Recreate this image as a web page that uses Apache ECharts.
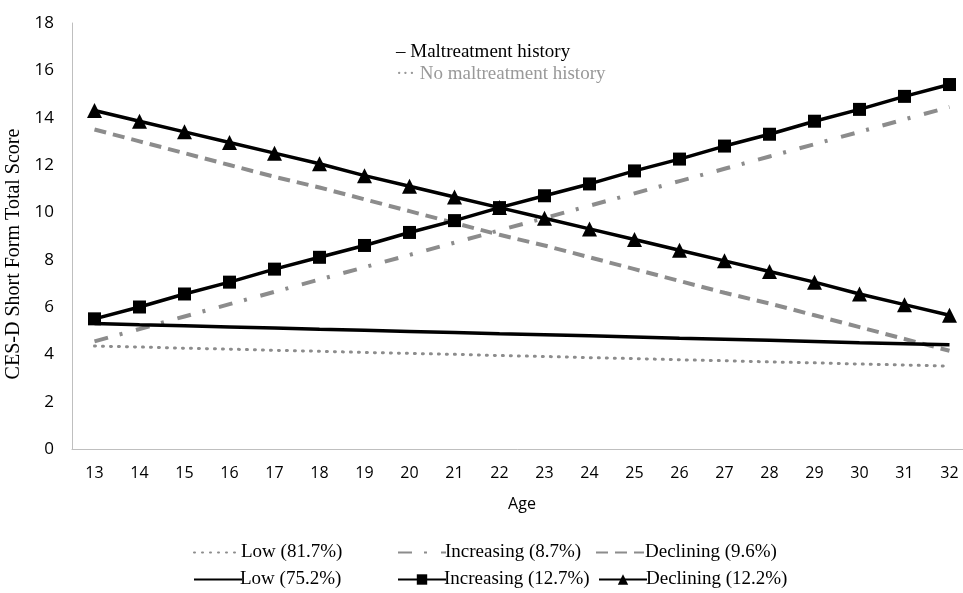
<!DOCTYPE html>
<html>
<head>
<meta charset="utf-8">
<script src="https://cdn.jsdelivr.net/npm/echarts@6/dist/echarts.min.js"></script>
<style>
html, body { margin: 0; padding: 0; background: #fff; }
#chart { width: 963px; height: 593px; }
</style>
</head>
<body>
<div id="chart"></div>
<script>
var ages = ['13','14','15','16','17','18','19','20','21','22','23','24','25','26','27','28','29','30','31','32'];
var yTicks = [0, 2, 4, 6, 8, 10, 12, 14, 16, 18];

// no maltreatment history (grey)
var noLow = [4.35,4.31,4.26,4.22,4.17,4.13,4.08,4.04,4.0,3.95,3.91,3.86,3.82,3.77,3.73,3.68,3.64,3.59,3.55,3.5];
var noIncreasing = [4.55,5.07,5.6,6.12,6.64,7.16,7.68,8.2,8.72,9.24,9.76,10.28,10.8,11.32,11.84,12.36,12.88,13.4,13.93,14.45];
var noDeclining = [13.5,13.0,12.5,12.0,11.5,11.05,10.55,10.05,9.55,9.05,8.6,8.1,7.6,7.1,6.6,6.15,5.65,5.15,4.65,4.15];

// maltreatment history (black)
var mLow = [5.3,5.25,5.21,5.16,5.11,5.06,5.02,4.97,4.92,4.87,4.83,4.78,4.73,4.68,4.64,4.59,4.54,4.49,4.45,4.4];
var mIncreasing = [5.5,6.0,6.55,7.05,7.6,8.1,8.6,9.15,9.65,10.2,10.7,11.2,11.75,12.25,12.8,13.3,13.85,14.35,14.9,15.4];
var mDeclining = [14.3,13.85,13.4,12.95,12.5,12.05,11.55,11.1,10.65,10.2,9.75,9.3,8.85,8.4,7.95,7.5,7.05,6.55,6.1,5.65];

var names = ['Low (81.7%)', 'Increasing (8.7%)', 'Declining (9.6%)',
             'Low (75.2%)', 'Increasing (12.7%)', 'Declining (12.2%)'];

var grey = '#8c8c8c';
var serif = 'Liberation Serif';

var myChart = echarts.init(document.getElementById('chart'));

function legendAt(name, left, top, gap, noMarker) {
  var lg = {
    data: [name],
    left: left,
    top: top,
    itemWidth: 48,
    itemHeight: 13,
    itemGap: 0,
    selectedMode: false,
    textStyle: { fontFamily: serif, fontSize: 19, color: '#000', padding: [0, 0, 0, gap] }
  };
  if (noMarker) lg.itemStyle = { opacity: 0 };
  return lg;
}

var option = {
  animation: false,
  grid: { left: 72, top: 23, width: 900, height: 426, outerBoundsMode: 'none' },
  legend: [
    legendAt(names[0], 188, 538, -6, true),
    legendAt(names[1], 392, 538, -6, true),
    legendAt(names[2], 590, 538, -4, true),
    legendAt(names[3], 188, 565, -7, true),
    legendAt(names[4], 392, 565, -7, false),
    legendAt(names[5], 593, 565, -6, false)
  ],
  graphic: [
    { type: 'text', left: 396, top: 43, style: { text: '\u2013 Maltreatment history', font: '19px "Liberation Serif"', fill: '#000' } },
    { type: 'text', left: 396, top: 65, style: { text: '\u00b7\u00b7\u00b7 No maltreatment history', font: '19px "Liberation Serif"', fill: '#999' } }
  ],
  xAxis: {
    type: 'category',
    data: ages,
    boundaryGap: true,
    name: 'Age',
    nameLocation: 'middle',
    nameGap: 47,
    nameTextStyle: { fontFamily: 'Open Sans', fontSize: 16, color: '#000' },
    axisLine: { lineStyle: { color: '#bfbfbf', width: 1 } },
    axisTick: { show: false },
    axisLabel: { fontFamily: 'Open Sans', fontSize: 16, color: '#000', margin: 16 }
  },
  yAxis: {
    type: 'value',
    min: 0,
    max: 18,
    interval: 2,
    name: 'CES-D Short Form Total Score',
    nameLocation: 'middle',
    nameGap: 42,
    nameTextStyle: { fontFamily: serif, fontSize: 20, color: '#000', padding: [0, 36, 0, 0] },
    axisLine: { show: true, lineStyle: { color: '#bfbfbf', width: 1 } },
    axisTick: { show: false },
    splitLine: { show: false },
    axisLabel: {
      fontFamily: 'Open Sans', fontSize: 17, color: '#000', margin: 18,
      formatter: function (v) { return yTicks.indexOf(v) >= 0 ? String(v) : ''; }
    }
  },
  series: [
    { name: names[0], type: 'line', data: noLow, symbol: 'none', z: 2,
      lineStyle: { color: grey, width: 3, type: [1, 7], cap: 'round' }, itemStyle: { color: grey } },
    { name: names[1], type: 'line', data: noIncreasing, symbol: 'none', z: 2,
      lineStyle: { color: grey, width: 4, type: [14, 12, 3, 14] }, itemStyle: { color: grey } },
    { name: names[2], type: 'line', data: noDeclining, symbol: 'none', z: 2,
      lineStyle: { color: grey, width: 4, type: [12, 7] }, itemStyle: { color: grey } },
    { name: names[3], type: 'line', data: mLow, symbol: 'none', z: 3,
      lineStyle: { color: '#000', width: 3.5 }, itemStyle: { color: '#000' } },
    { name: names[4], type: 'line', data: mIncreasing, symbol: 'rect', symbolSize: 13, z: 3,
      lineStyle: { color: '#000', width: 3.5 }, itemStyle: { color: '#000' } },
    { name: names[5], type: 'line', data: mDeclining, symbol: 'triangle', symbolSize: 15, z: 3,
      lineStyle: { color: '#000', width: 3.5 }, itemStyle: { color: '#000' } }
  ]
};

myChart.setOption(option);
window.addEventListener('resize', function () {
  myChart.resize();
});
</script>
</body>
</html>
